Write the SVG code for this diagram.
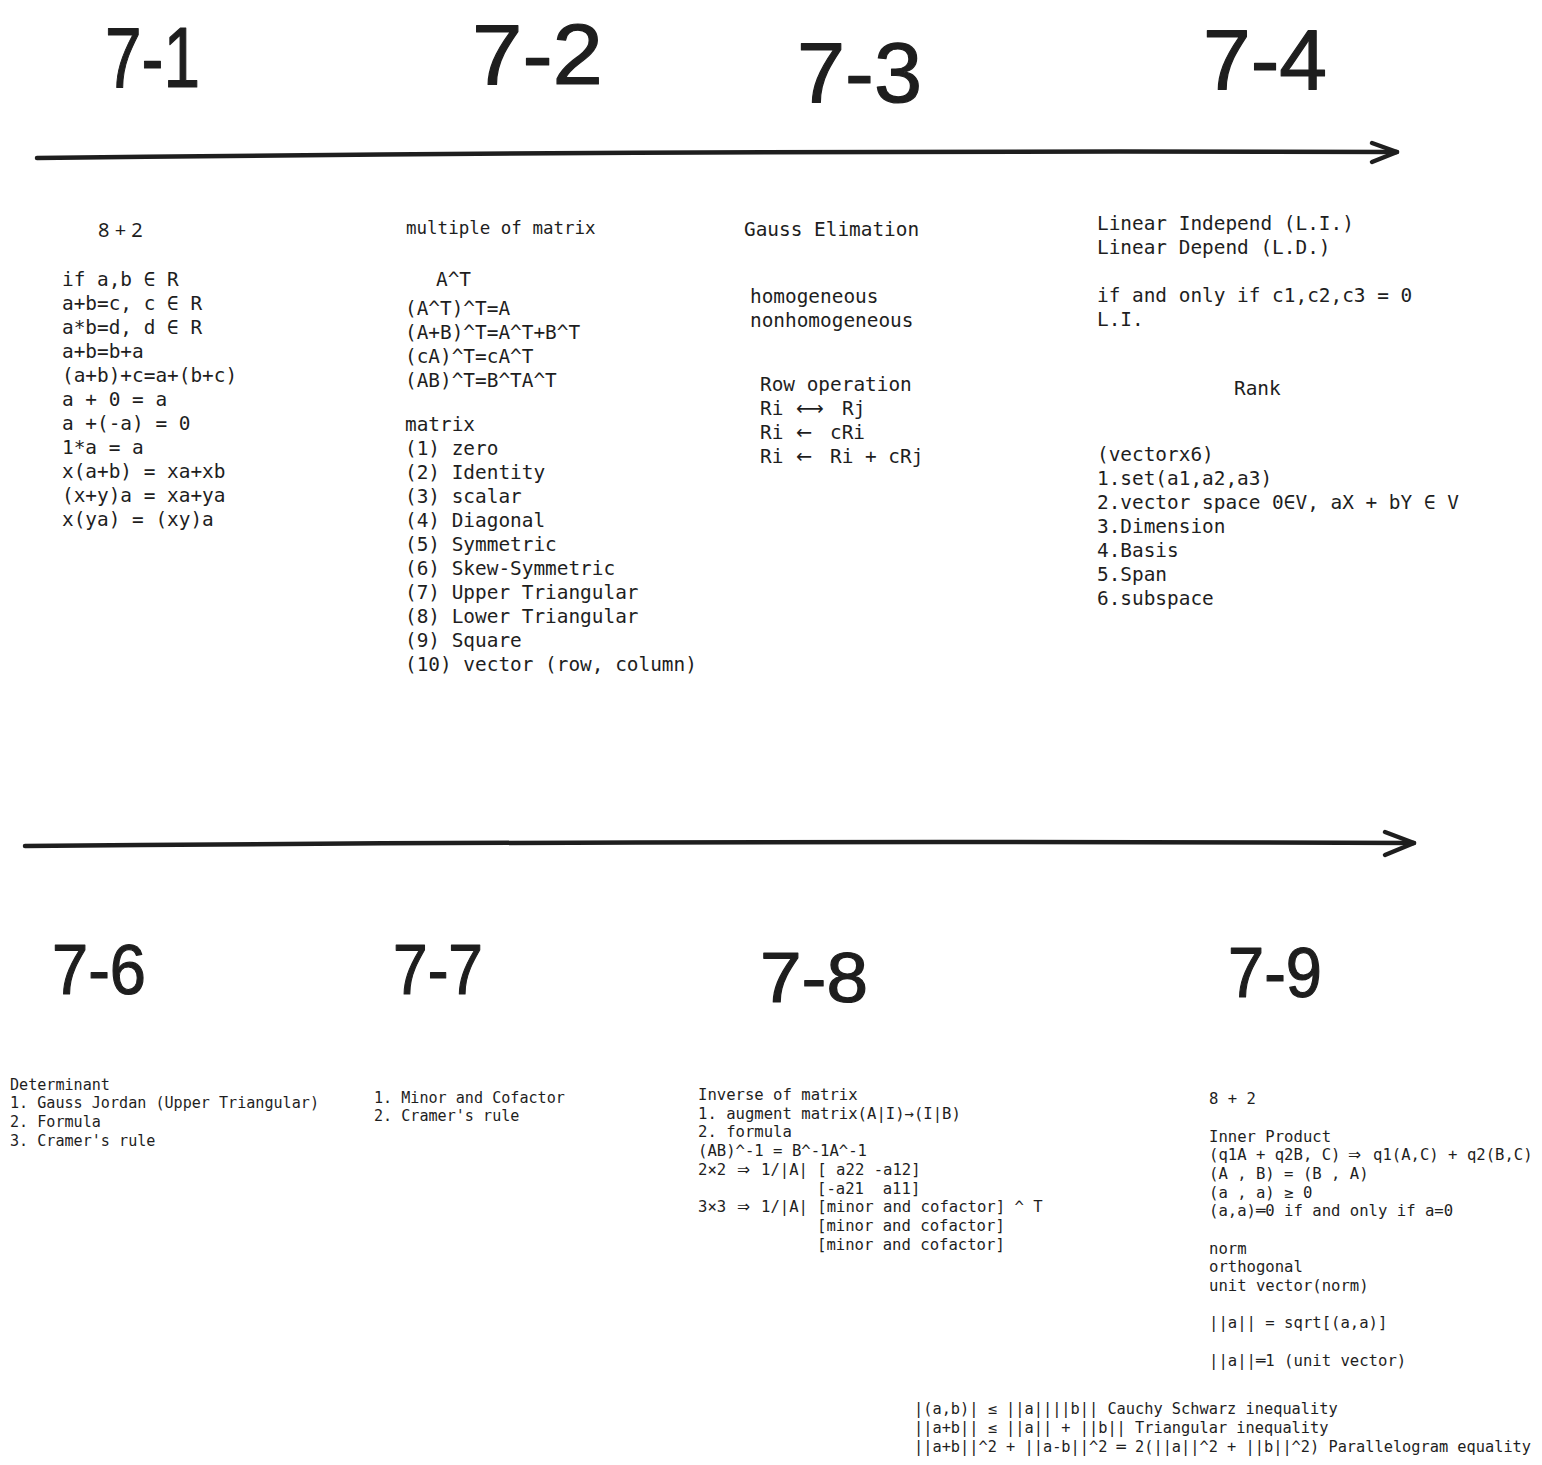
<svg xmlns="http://www.w3.org/2000/svg" width="1542" height="1465" viewBox="0 0 1542 1465">
<style>
text{fill:#1e1e1e;white-space:pre}
.t{font-family:"Liberation Sans Narrow","Liberation Sans",sans-serif;font-weight:normal;stroke:#1e1e1e;stroke-width:1.2;stroke-linejoin:round}
.m{font-family:"DejaVu Sans Mono","Liberation Mono",monospace;font-size:19.4px}
.s{font-family:"DejaVu Sans Mono","Liberation Mono",monospace;font-size:15.6px}
.h{font-family:"Noto Sans","DejaVu Sans",sans-serif;font-size:20px}
.ar{font-family:"DejaVu Sans",sans-serif}
.ln{fill:none;stroke:#1e1e1e;stroke-width:4.5;stroke-linecap:round;stroke-linejoin:round}
</style>
<rect width="1542" height="1465" fill="#ffffff"/>
<g id="connectors">
<path class="ln" d="M37 158 Q700 150 1397 152"/>
<path class="ln" d="M1372 143 L1397 152 L1372 162"/>
<path class="ln" d="M25 846 Q700 840 1414 843"/>
<path class="ln" d="M1385 832 L1414 843 L1385 855"/>
</g>
<g id="title-7-1"><text class="t" x="105" y="87" font-size="86" textLength="95" lengthAdjust="spacingAndGlyphs">7-1</text></g>
<g id="title-7-2"><text class="t" x="472" y="84" font-size="86" textLength="131" lengthAdjust="spacingAndGlyphs">7-2</text></g>
<g id="title-7-3"><text class="t" x="797" y="102" font-size="86" textLength="125" lengthAdjust="spacingAndGlyphs">7-3</text></g>
<g id="title-7-4"><text class="t" x="1203" y="89" font-size="86" textLength="124" lengthAdjust="spacingAndGlyphs">7-4</text></g>
<g id="title-7-6"><text class="t" x="52" y="994" font-size="70" textLength="94" lengthAdjust="spacingAndGlyphs">7-6</text></g>
<g id="title-7-7"><text class="t" x="393" y="994" font-size="70" textLength="90" lengthAdjust="spacingAndGlyphs">7-7</text></g>
<g id="title-7-8"><text class="t" x="760" y="1002" font-size="70" textLength="108" lengthAdjust="spacingAndGlyphs">7-8</text></g>
<g id="title-7-9"><text class="t" x="1228" y="997" font-size="70" textLength="94" lengthAdjust="spacingAndGlyphs">7-9</text></g>
<g id="block-7-1">
<text class="h" x="98" y="237">8 + 2</text>
<text class="m" x="62" y="286">if a,b ∈ R</text>
<text class="m" x="62" y="310">a+b=c, c ∈ R</text>
<text class="m" x="62" y="334">a*b=d, d ∈ R</text>
<text class="m" x="62" y="358">a+b=b+a</text>
<text class="m" x="62" y="382">(a+b)+c=a+(b+c)</text>
<text class="m" x="62" y="406">a + 0 = a</text>
<text class="m" x="62" y="430">a +(-a) = 0</text>
<text class="m" x="62" y="454">1*a = a</text>
<text class="m" x="62" y="478">x(a+b) = xa+xb</text>
<text class="m" x="62" y="502">(x+y)a = xa+ya</text>
<text class="m" x="62" y="526">x(ya) = (xy)a</text>
</g>
<g id="block-7-2">
<text class="m" x="406" y="234" style="font-size:17.5px">multiple of matrix</text>
<text class="m" x="436" y="286">A^T</text>
<text class="m" x="405" y="315">(A^T)^T=A</text>
<text class="m" x="405" y="339">(A+B)^T=A^T+B^T</text>
<text class="m" x="405" y="363">(cA)^T=cA^T</text>
<text class="m" x="405" y="387">(AB)^T=B^TA^T</text>
<text class="m" x="405" y="431">matrix</text>
<text class="m" x="405" y="455">(1) zero</text>
<text class="m" x="405" y="479">(2) Identity</text>
<text class="m" x="405" y="503">(3) scalar</text>
<text class="m" x="405" y="527">(4) Diagonal</text>
<text class="m" x="405" y="551">(5) Symmetric</text>
<text class="m" x="405" y="575">(6) Skew-Symmetric</text>
<text class="m" x="405" y="599">(7) Upper Triangular</text>
<text class="m" x="405" y="623">(8) Lower Triangular</text>
<text class="m" x="405" y="647">(9) Square</text>
<text class="m" x="405" y="671">(10) vector (row, column)</text>
</g>
<g id="block-7-3">
<text class="m" x="744" y="236">Gauss Elimation</text>
<text class="m" x="750" y="303">homogeneous</text>
<text class="m" x="750" y="327">nonhomogeneous</text>
<text class="m" x="760" y="391">Row operation</text>
<text class="m" x="760" y="415">Ri<tspan class="ar" x="796">⟷</tspan><tspan x="842">Rj</tspan></text>
<text class="m" x="760" y="439">Ri<tspan class="ar" x="796">←</tspan><tspan x="830">cRi</tspan></text>
<text class="m" x="760" y="463">Ri<tspan class="ar" x="796">←</tspan><tspan x="830">Ri + cRj</tspan></text>
</g>
<g id="block-7-4">
<text class="m" x="1097" y="230">Linear Independ (L.I.)</text>
<text class="m" x="1097" y="254">Linear Depend (L.D.)</text>
<text class="m" x="1097" y="302">if and only if c1,c2,c3 = 0</text>
<text class="m" x="1097" y="326">L.I.</text>
<text class="m" x="1234" y="395">Rank</text>
<text class="m" x="1097" y="461">(vectorx6)</text>
<text class="m" x="1097" y="485">1.set(a1,a2,a3)</text>
<text class="m" x="1097" y="509">2.vector space 0∈V, aX + bY ∈ V</text>
<text class="m" x="1097" y="533">3.Dimension</text>
<text class="m" x="1097" y="557">4.Basis</text>
<text class="m" x="1097" y="581">5.Span</text>
<text class="m" x="1097" y="605">6.subspace</text>
</g>
<g id="block-7-6">
<text class="s" x="10" y="1090" style="font-size:15.1px">Determinant</text>
<text class="s" x="10" y="1108" style="font-size:15.1px">1. Gauss Jordan (Upper Triangular)</text>
<text class="s" x="10" y="1127" style="font-size:15.1px">2. Formula</text>
<text class="s" x="10" y="1146" style="font-size:15.1px">3. Cramer's rule</text>
</g>
<g id="block-7-7">
<text class="s" x="374" y="1103" style="font-size:15.1px">1. Minor and Cofactor</text>
<text class="s" x="374" y="1121" style="font-size:15.1px">2. Cramer's rule</text>
</g>
<g id="block-7-8">
<text class="s" x="698" y="1100">Inverse of matrix</text>
<text class="s" x="698" y="1119">1. augment matrix(A|I)→(I|B)</text>
<text class="s" x="698" y="1137">2. formula</text>
<text class="s" x="698" y="1156">(AB)^-1 = B^-1A^-1</text>
<text class="s" x="698" y="1175">2×2<tspan class="ar" x="737">⇒</tspan><tspan x="761">1/|A| [ a22 -a12]</tspan></text>
<text class="s" x="817" y="1194">[-a21  a11]</text>
<text class="s" x="698" y="1212">3×3<tspan class="ar" x="737">⇒</tspan><tspan x="761">1/|A| [minor and cofactor] ^ T</tspan></text>
<text class="s" x="817" y="1231">[minor and cofactor]</text>
<text class="s" x="817" y="1250">[minor and cofactor]</text>
</g>
<g id="block-7-9">
<text class="s" x="1209" y="1104">8 + 2</text>
<text class="s" x="1209" y="1142">Inner Product</text>
<text class="s" x="1209" y="1160">(q1A + q2B, C)<tspan class="ar" x="1348">⇒</tspan><tspan x="1373">q1(A,C) + q2(B,C)</tspan></text>
<text class="s" x="1209" y="1179">(A , B) = (B , A)</text>
<text class="s" x="1209" y="1198">(a , a) ≥ 0</text>
<text class="s" x="1209" y="1216">(a,a)═0 if and only if a=0</text>
<text class="s" x="1209" y="1254">norm</text>
<text class="s" x="1209" y="1272">orthogonal</text>
<text class="s" x="1209" y="1291">unit vector(norm)</text>
<text class="s" x="1209" y="1328">||a|| = sqrt[(a,a)]</text>
<text class="s" x="1209" y="1366">||a||═1 (unit vector)</text>
</g>
<g id="block-inequalities">
<text class="s" x="914" y="1414" style="font-size:15.3px">|(a,b)| ≤ ||a||||b|| Cauchy Schwarz inequality</text>
<text class="s" x="914" y="1433" style="font-size:15.3px">||a+b|| ≤ ||a|| + ||b|| Triangular inequality</text>
<text class="s" x="914" y="1452" style="font-size:15.3px">||a+b||^2 + ||a-b||^2 ═ 2(||a||^2 + ||b||^2) Parallelogram equality</text>
</g>
</svg>
